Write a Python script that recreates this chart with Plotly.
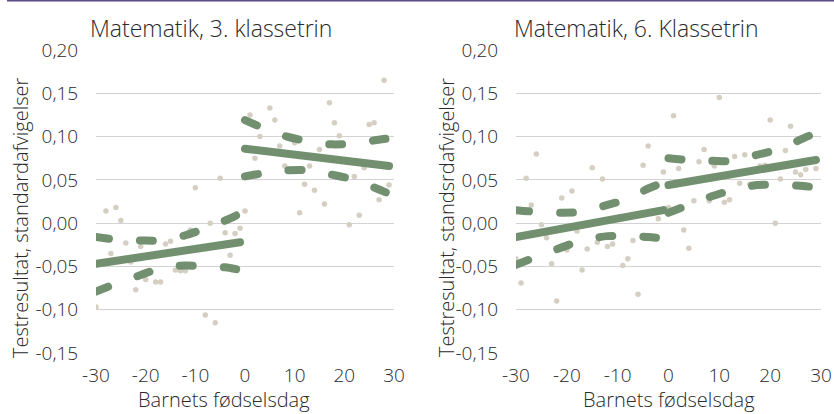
import plotly.graph_objects as go

# ---- data -------------------------------------------------------------
days = list(range(-30, 30))

# Matematik, 3. klassetrin: mean test score per birthday (days from cutoff)
score_3 = [
    -0.097, -0.046, 0.014, -0.035, 0.018, 0.003, -0.023, -0.045, -0.077, -0.027,
    -0.065, -0.020, -0.068, -0.068, -0.024, -0.021, -0.054, -0.055, -0.055, -0.008,
    0.041, -0.029, -0.106, 0.000, -0.115, 0.052, -0.011, -0.037, -0.012, -0.006,
    0.014, 0.125, 0.075, 0.100, 0.083, 0.133, 0.119, 0.089, 0.066, 0.079,
    0.093, 0.012, 0.045, 0.066, 0.038, 0.085, 0.022, 0.139, 0.116, 0.101,
    0.073, -0.002, 0.054, 0.009, 0.064, 0.114, 0.116, 0.027, 0.165, 0.044,
]

# Matematik, 6. Klassetrin
score_6 = [
    -0.041, -0.069, 0.052, 0.021, 0.080, -0.002, -0.017, -0.047, -0.090, 0.029,
    -0.031, 0.037, -0.009, -0.054, -0.030, 0.064, -0.022, 0.051, -0.027, -0.024,
    0.005, -0.049, -0.041, -0.020, -0.082, 0.067, 0.089, 0.012, 0.005, 0.059,
    0.018, 0.124, 0.063, -0.008, -0.029, 0.026, 0.071, 0.085, 0.026, 0.066,
    0.145, 0.024, 0.027, 0.077, 0.046, 0.079, 0.045, 0.062, 0.066, 0.067,
    0.119, 0.000, 0.051, 0.084, 0.112, 0.059, 0.056, 0.062, 0.071, 0.063,
]

# Fitted lines before / after the cutoff
fit_days_before = [-30, -1]
fit_days_after = [0, 29]
fit_3_before = [-0.047, -0.022]
fit_3_after = [0.086, 0.066]
fit_6_before = [-0.016, 0.015]
fit_6_after = [0.044, 0.073]

# Confidence bands (upper / lower) along each fitted segment
ci_days_before = [-30, -26, -21, -17, -12, -8, -4, -1]
ci_days_after = [0, 4, 8.5, 13, 17.5, 22, 26.5, 29]

ci_3_up_before = [-0.016, -0.019, -0.020, -0.020, -0.014, -0.006, 0.003, 0.011]
ci_3_lo_before = [-0.079, -0.070, -0.060, -0.052, -0.049, -0.050, -0.051, -0.054]
ci_3_up_after = [0.119, 0.109, 0.100, 0.094, 0.091, 0.092, 0.096, 0.098]
ci_3_lo_after = [0.054, 0.058, 0.061, 0.061, 0.056, 0.050, 0.040, 0.034]

ci_6_up_before = [0.015, 0.013, 0.012, 0.013, 0.021, 0.028, 0.040, 0.047]
ci_6_lo_before = [-0.048, -0.039, -0.028, -0.020, -0.015, -0.015, -0.016, -0.018]
ci_6_up_after = [0.075, 0.073, 0.072, 0.072, 0.079, 0.086, 0.098, 0.104]
ci_6_lo_after = [0.012, 0.021, 0.031, 0.039, 0.044, 0.044, 0.043, 0.041]

panel_titles = ["Matematik, 3. klassetrin", "Matematik, 6. Klassetrin"]
y_titles = ["Testresultat, standardafvigelser", "Testresultat, standsrdafvigelser"]
x_title = "Barnets fødselsdag"
x_ticks = [-30, -20, -10, 0, 10, 20, 30]
y_ticks = [-0.15, -0.10, -0.05, 0.00, 0.05, 0.10, 0.15, 0.20]
y_tick_text = ["-0,15", "-0,10", "-0,05", "0,00", "0,05", "0,10", "0,15", "0,20"]

# ---- styling ----------------------------------------------------------
W, H = 834, 414
GREEN = "#72906f"
DOT = "#d5cfc3"
GRID = "#d3d3d3"
TEXT = "#2a2a2a"
FONT = "Open Sans"
DASH = "13px,31px"

fig = go.Figure()

panels = [
    ("x", "y", score_3, fit_3_before, fit_3_after,
     ci_3_up_before, ci_3_lo_before, ci_3_up_after, ci_3_lo_after),
    ("x2", "y2", score_6, fit_6_before, fit_6_after,
     ci_6_up_before, ci_6_lo_before, ci_6_up_after, ci_6_lo_after),
]

for xa, ya, sc, fb, fa, ub, lb, ua, la in panels:
    fig.add_trace(go.Scatter(
        x=days, y=sc, mode="markers", xaxis=xa, yaxis=ya,
        marker=dict(color=DOT, size=5.5, line=dict(width=0)),
        showlegend=False, hoverinfo="skip"))
    for cx, cy in [(ci_days_before, ub), (ci_days_before, lb),
                   (ci_days_after, ua), (ci_days_after, la)]:
        fig.add_trace(go.Scatter(
            x=cx, y=cy, mode="lines", xaxis=xa, yaxis=ya,
            line=dict(color=GREEN, width=8, dash=DASH, shape="spline", smoothing=0.8),
            showlegend=False, hoverinfo="skip"))
    for fx, fy in [(fit_days_before, fb), (fit_days_after, fa)]:
        fig.add_trace(go.Scatter(
            x=fx, y=fy, mode="lines", xaxis=xa, yaxis=ya,
            line=dict(color=GREEN, width=8),
            showlegend=False, hoverinfo="skip"))

y_dom = [1 - 353 / H, 1 - 50 / H]
x_doms = [[96 / W, 394 / W], [516 / W, 821 / W]]

axis_font = dict(family=FONT, size=19, color=TEXT, weight=300)
title_font = dict(family=FONT, size=20, color=TEXT, weight=300)

layout = dict(
    width=W, height=H,
    margin=dict(l=0, r=0, t=0, b=0),
    paper_bgcolor="white", plot_bgcolor="white",
    font=dict(family=FONT, color=TEXT),
    showlegend=False,
)

for i, suffix in enumerate(["", "2"]):
    layout["xaxis" + suffix] = dict(
        domain=x_doms[i], range=[-30, 30], anchor="y" + suffix,
        tickvals=x_ticks, ticktext=[str(t) for t in x_ticks],
        showgrid=False, zeroline=False, showline=False,
        ticks="outside", ticklen=5, tickcolor="rgba(0,0,0,0)",
        tickfont=axis_font, automargin=False,
    )
    layout["yaxis" + suffix] = dict(
        domain=y_dom, range=[-0.15, 0.20], anchor="x" + suffix,
        tickvals=y_ticks, ticktext=y_tick_text,
        showgrid=True, gridcolor=GRID, gridwidth=1,
        zeroline=False, showline=False,
        ticks="outside", ticklen=13, tickcolor="rgba(0,0,0,0)",
        tickfont=axis_font, automargin=False,
    )

fig.update_layout(**layout)

# Panel titles
for xpos, title in zip([88, 512], panel_titles):
    fig.add_annotation(
        text=title, xref="paper", yref="paper",
        x=xpos / W, y=1 - 28 / H, xanchor="left", yanchor="middle",
        showarrow=False, font=dict(family=FONT, size=23, color=TEXT, weight=300))

# Axis titles
for xc in [224, 669]:
    fig.add_annotation(
        text=x_title, xref="paper", yref="paper",
        x=xc / W, y=0, xanchor="center", yanchor="bottom",
        showarrow=False, font=title_font, borderpad=0)
for xc, text in zip([20, 446], y_titles):
    fig.add_annotation(
        text=text, xref="paper", yref="paper", textangle=-90,
        x=xc / W, y=1 - 218 / H, xanchor="center", yanchor="middle",
        showarrow=False, font=title_font)

# Purple rule along the top edge
fig.add_shape(type="line", xref="paper", yref="paper",
              x0=7 / W, x1=1, y0=1, y1=1,
              line=dict(color="#5b4a8c", width=3))

round_caps = (
    "var s=document.createElement('style');"
    "s.innerHTML='.js-line{stroke-linecap:round !important;}';"
    "document.head.appendChild(s);"
)

fig.write_html("out.html", post_script=round_caps)
